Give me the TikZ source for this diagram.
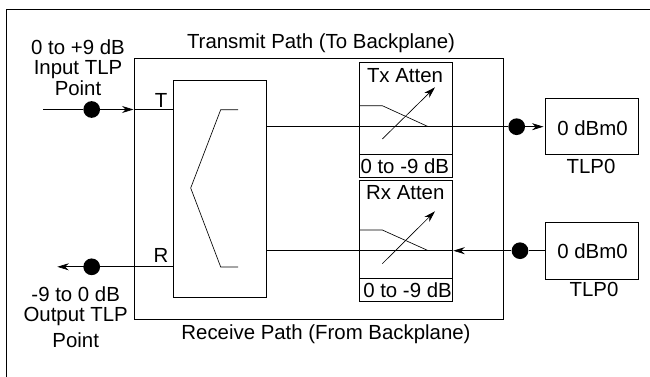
\documentclass[tikz,border=0pt]{standalone}
\usepackage{fontspec}
\setmainfont{Liberation Sans}
\usetikzlibrary{positioning,arrows.meta}
\tikzset{
	lbl/.style={inner sep=0pt,font=\fontsize{20.4}{20.5}\selectfont},
	box/.style={draw,line width=0.9pt,inner sep=0pt,anchor=north west},
	tlpdot/.style={circle,fill=black,inner sep=0pt,minimum size=16.7pt},
	sig/.style={line width=0.65pt},
	tip/.style={-{Stealth[length=11.5pt,width=7pt]}}
}
\begin{document}
\begin{tikzpicture}[x=1pt,y=-1pt,>=stealth]
	\useasboundingbox (0,0) rectangle (650,377);
	% frame and the two paths
	\draw[line width=0.9pt] (6.5,377) -- (6.5,9.7) -- (650,9.7);
	\node[box,minimum width=369.5pt,minimum height=260.5pt] at (133.5,58.5) (card) {};
	\node[lbl] at (321,43.5) (txpath) {Transmit Path (To Backplane)};
	\node[lbl] at (326,334.5) (rxpath) {Receive Path (From Backplane)};
	% hybrid
	\node[box,minimum width=93.3pt,minimum height=217.3pt] at (173,80) (hybrid) {};
	\draw[sig] (238,109.7) -- (220.7,109.7) -- (190.7,188) -- (220.7,267) -- (238,267);
	\node[lbl] at (161,100) (tlabel) {T};
	\node[lbl] at (161,255) (rlabel) {R};
	% attenuators
	\node[box,minimum width=92.7pt,minimum height=92.3pt] at (359,61.7) (txatt) {};
	\node[box,minimum width=92.7pt,minimum height=22.7pt] at (359,154) (txval) {};
	\node[box,minimum width=93pt,minimum height=98.3pt] at (359.3,180) (rxatt) {};
	\node[box,minimum width=93pt,minimum height=22.7pt] at (359.3,278.3) (rxval) {};
	\node[lbl] at (405,75.5) (txname) {Tx Atten};
	\node[lbl] at (405.3,192.3) (rxname) {Rx Atten};
	\node[lbl] at (404.8,166) (txrange) {0 to -9 dB};
	\node[lbl] at (407.5,290) (rxrange) {0 to -9 dB};
	% loads
	\node[box,minimum width=93.3pt,minimum height=56.6pt] at (545,97.7) (txload) {};
	\node[box,minimum width=93.3pt,minimum height=56.7pt] at (545,222) (rxload) {};
	\node[lbl] at (592.5,128.7) (txlevel) {0 dBm0};
	\node[lbl] at (592.5,251) (rxlevel) {0 dBm0};
	\node[lbl] at (591,166) (txtlp) {TLP0};
	\node[lbl] at (594,289.7) (rxtlp) {TLP0};
	% left labels
	\node[lbl,align=center] at (78,67.5) (inlabel) {0 to +9 dB\\Input TLP\\Point};
	\node[lbl,align=center] at (75.7,317) (outlabel) {-9 to 0 dB\\Output TLP\\[5pt]Point};
	% signals
	\node[tlpdot] at (91.7,109.5) (indot) {};
	\node[tlpdot] at (91.7,266.8) (outdot) {};
	\node[tlpdot] at (516.7,126.7) (txdot) {};
	\node[tlpdot] at (520,250.7) (rxdot) {};
	\coordinate (instart) at (43.3,109.5);
	\coordinate (outend) at (57.3,266.8);
	\coordinate (rxmid) at (453.3,250.7);
	\draw[sig] (instart) -- (indot);
	\draw[sig,tip] (indot) -- (card.west |- indot);
	\draw[sig] (card.west |- indot) -- (hybrid.west |- indot);
	\draw[sig,tip] (hybrid.west |- outdot) -- (outend);
	\draw[sig] (hybrid.east |- txdot) -- (txdot);
	\draw[sig,tip] (txdot) -- ([xshift=-1.5pt]txload.west |- txdot);
	\draw[sig] (rxload.west |- rxdot) -- (rxdot);
	\draw[sig,tip] (rxdot) -- (rxmid);
	\draw[sig] (rxmid) -- (hybrid.east |- rxdot);
	% attenuator slopes
	\draw[sig] (txatt.west |- 0,105.7) -- (382.3,105.7) -- (428.3,126.7);
	\draw[sig,tip] (382.3,139) -- (435,87.3);
	\draw[sig] (rxatt.west |- 0,230) -- (382.3,230) -- (428.3,250.7);
	\draw[sig,tip] (382.3,263.7) -- (435,211.3);
\end{tikzpicture}
\end{document}
